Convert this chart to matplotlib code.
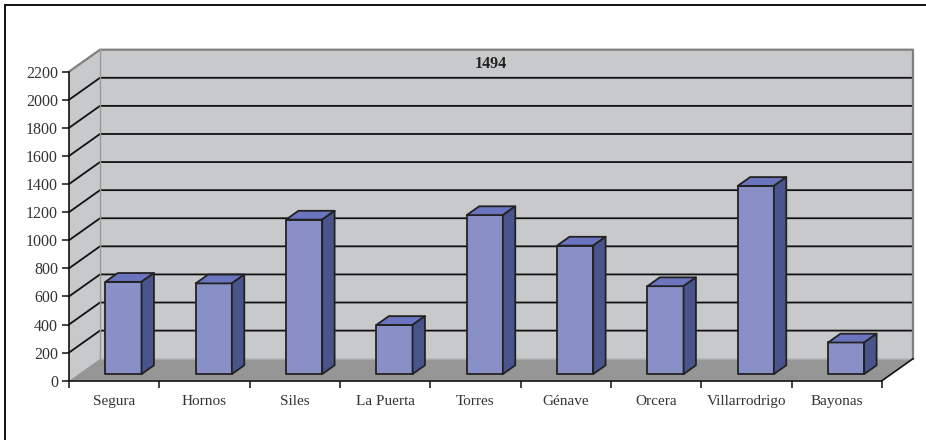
import numpy as np
import matplotlib.pyplot as plt
from matplotlib.patches import Polygon
from matplotlib.lines import Line2D

towns = ['Segura', 'Hornos', 'Siles', 'La Puerta', 'Torres', 'Génave',
         'Orcera', 'Villarrodrigo', 'Bayonas']
values = [657, 646, 1100, 350, 1132, 915, 626, 1340, 225]
y_ticks = np.arange(0, 2201, 200)
title = '1494'

plt.rcParams['font.family'] = 'serif'
plt.rcParams['font.serif'] = ['Liberation Serif', 'DejaVu Serif']

WALL = '#c8c9cb'
FLOOR = '#969696'
FRONT = '#898fc7'
TOP = '#6b74be'
SIDE = '#4a548c'
EDGE = '#222222'

W, H = 926, 440
fig = plt.figure(figsize=(W / 100, H / 100), dpi=100)
# front plane of the 3d box
left, right, bottom, top = 69, 882, 380.7, 71.7
ax = fig.add_axes([left / W, 1 - bottom / H, (right - left) / W, (bottom - top) / H])
n = len(towns)
ymax = y_ticks[-1]
ax.set_xlim(0, n)
ax.set_ylim(0, ymax)

# offset of the back wall, in data units
DX = 31 / ((right - left) / n)
DY = 22 / ((bottom - top) / ymax)


def proj(x, v, d):
    return (x + d * DX, v + d * DY)


def face(pts, **kw):
    ax.add_patch(Polygon([proj(*q) for q in pts], closed=True, clip_on=False, **kw))


def line(pts, **kw):
    xy = np.array([proj(*q) for q in pts])
    ax.add_line(Line2D(xy[:, 0], xy[:, 1], clip_on=False, **kw))


# walls and floor
face([(0, 0, 0), (0, ymax, 0), (0, ymax, 1), (0, 0, 1)], facecolor=WALL, edgecolor='none', zorder=0.5)
face([(0, 0, 1), (n, 0, 1), (n, ymax, 1), (0, ymax, 1)], facecolor=WALL, edgecolor='none', zorder=0.5)
face([(0, 0, 0), (n, 0, 0), (n, 0, 1), (0, 0, 1)], facecolor=FLOOR, edgecolor='none', zorder=0.6)

for v in y_ticks[1:-1]:
    line([(0, v, 0), (0, v, 1), (n, v, 1)], color='#111111', lw=1.3, zorder=0.7)

line([(0, ymax, 0), (0, ymax, 1), (n, ymax, 1), (n, 0, 1)], color='#808080', lw=1.6, zorder=0.7)
line([(0, 0, 1), (0, ymax, 1)], color='#9a9a9a', lw=1.0, zorder=0.7)
line([(0, 0, 1), (n, 0, 1)], color='#aaaaaa', lw=0.8, zorder=0.7)
line([(n, 0, 0), (n, 0, 1)], color='#111111', lw=1.2, zorder=0.7)

# bars
d0, d1 = 0.3, 0.7
for i, v in enumerate(values):
    x0, x1 = i + 0.3, i + 0.7
    kw = dict(edgecolor=EDGE, lw=1.3, joinstyle='round', zorder=2)
    face([(x0, 0, d0), (x1, 0, d0), (x1, v, d0), (x0, v, d0)], facecolor=FRONT, **kw)
    face([(x0, v, d0), (x1, v, d0), (x1, v, d1), (x0, v, d1)], facecolor=TOP, **kw)
    face([(x1, 0, d0), (x1, 0, d1), (x1, v, d1), (x1, v, d0)], facecolor=SIDE, **kw)

# axes
for s in ['top', 'right']:
    ax.spines[s].set_visible(False)
for s in ['left', 'bottom']:
    ax.spines[s].set_color('#111111')
    ax.spines[s].set_linewidth(1.2)
ax.patch.set_visible(False)

ax.set_yticks(y_ticks)
ax.tick_params(axis='y', direction='out', length=5, width=1.1, pad=3,
               labelsize=11.5, colors='#111111', labelcolor='#333333')
ax.set_xticks(np.arange(n + 1))
ax.set_xticklabels([])
ax.set_xticks(np.arange(n) + 0.5, minor=True)
ax.set_xticklabels(towns, minor=True)
ax.tick_params(axis='x', which='major', direction='out', length=5, width=1.1, colors='#111111')
ax.tick_params(axis='x', which='minor', length=0, pad=10, labelsize=11, labelcolor='#333333')

fig.text(491 / W, 1 - 64 / H, title, ha='center', va='center',
         fontsize=11.5, fontweight='bold', color='#222222')

# outer frame
fig.add_artist(Line2D([5 / W, 5 / W], [0, 1 - 5 / H], color='#111111', lw=1.4,
                      transform=fig.transFigure))
fig.add_artist(Line2D([5 / W, 1], [1 - 5 / H, 1 - 5 / H], color='#111111', lw=1.4,
                      transform=fig.transFigure))

fig.savefig('out.png', dpi=100, facecolor='white')
